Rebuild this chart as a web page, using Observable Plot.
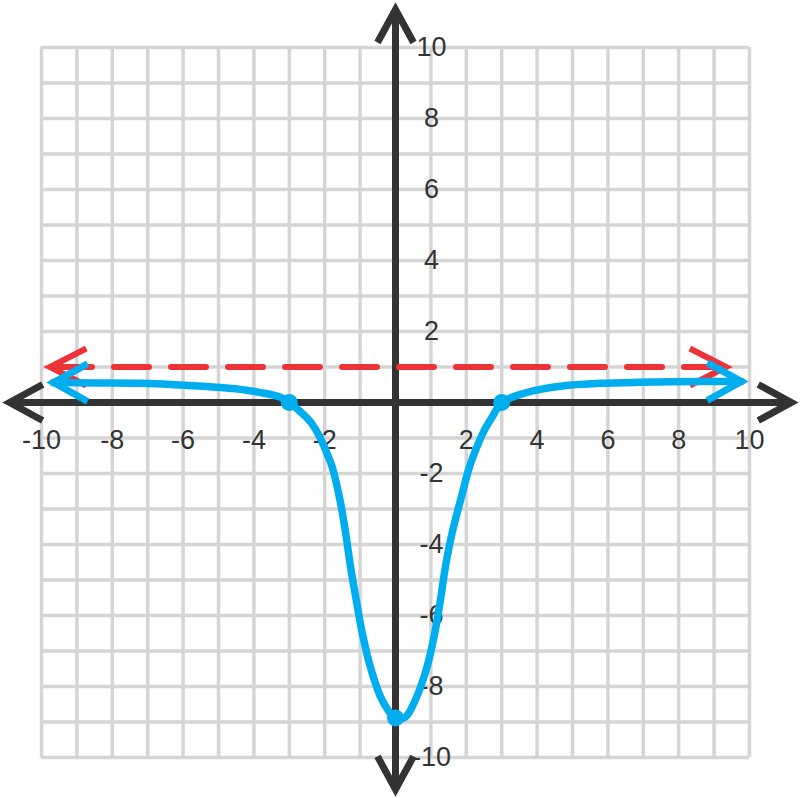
<!DOCTYPE html>
<html><head><meta charset="utf-8">
<script src="https://cdn.jsdelivr.net/npm/d3@7"></script>
<script src="https://cdn.jsdelivr.net/npm/@observablehq/plot@0.6"></script>
<style>body{margin:0;background:#fff;} svg{display:block;}</style>
</head><body><div id="chart"></div>
<script>
// ---- data ----
const gridValues = [-10,-9,-8,-7,-6,-5,-4,-3,-2,-1,0,1,2,3,4,5,6,7,8,9,10];
const xTickValues = [-10,-8,-6,-4,-2,2,4,6,8,10];
const xTickLabels = ["-10","-8","-6","-4","-2","2","4","6","8","10"];
const yTickValues = [10,8,6,4,2,-2,-4,-6,-8,-10];
const yTickLabels = ["10","8","6","4","2","-2","-4","-6","-8","-10"];
const xAxisExtent = [-10.9, 11.18];
const yAxisExtent = [-10.9, 11.07];
const asymptoteY = 1;
const asymptoteExtent = [-9.76, 9.34];
const curveX = [-9.66,-8.5,-7.2,-6.07,-4.94,-4.4,-3.81,-3.25,-3.0,-2.7,-2.4,-2.15,-1.95,-1.79,-1.57,-1.41,-1.27,-1.11,-0.94,-0.71,-0.38,0,0.28,0.56,0.89,1.11,1.27,1.41,1.6,1.84,2.09,2.3,2.5,2.75,3.0,3.53,4.1,4.66,5.8,6.9,8.5,9.77];
const curveY = [0.56,0.55,0.54,0.49,0.42,0.37,0.28,0.15,0,-0.25,-0.55,-0.95,-1.4,-1.81,-2.74,-3.67,-4.63,-5.56,-6.49,-7.45,-8.38,-8.89,-8.86,-8.38,-7.45,-6.49,-5.56,-4.63,-3.67,-2.74,-1.81,-1.25,-0.8,-0.38,0,0.23,0.37,0.46,0.54,0.57,0.59,0.59];
const keyX = [-3, 0, 3];
const keyY = [0, -8.89, 0];

// ---- build tables ----
const curve = curveX.map((x, i) => ({x, y: curveY[i]}));
const keyPts = keyX.map((x, i) => ({x, y: keyY[i]}));
const xTicks = xTickValues.map((v, i) => ({v, label: xTickLabels[i]}));
const yTicks = yTickValues.map((v, i) => ({v, label: yTickLabels[i]}));

function chevron(len, halfDeg) {
  const a = halfDeg * Math.PI / 180;
  const dx = len * Math.cos(a), dy = len * Math.sin(a);
  return {draw(ctx) { ctx.moveTo(-dx, -dy); ctx.lineTo(0, 0); ctx.lineTo(-dx, dy); }};
}
const axisTips = [
  {x: xAxisExtent[0], y: 0, r: 180}, {x: xAxisExtent[1], y: 0, r: 0},
  {x: 0, y: yAxisExtent[1], r: -90}, {x: 0, y: yAxisExtent[0], r: 90}
];
const redTips = [{x: asymptoteExtent[0], y: asymptoteY, r: 180}, {x: asymptoteExtent[1], y: asymptoteY, r: 0}];
const blueTips = [{x: curve[0].x, y: curve[0].y, r: 180}, {x: curve[curve.length-1].x, y: curve[curve.length-1].y, r: 0}];

const AXIS = "#333333", GRID = "#d5d5d5", RED = "#ee3338", BLUE = "#00aeef";
const FONT = "Liberation Sans, Arial, sans-serif";

const chart = Plot.plot({
  width: 800, height: 798,
  marginLeft: 41, marginRight: 51, marginTop: 47, marginBottom: 41,
  x: {domain: [-10, 10], axis: null},
  y: {domain: [-10, 10], axis: null},
  style: {background: "#fff", overflow: "visible", fontFamily: FONT},
  marks: [
    Plot.ruleX(gridValues, {x: d => d, y1: -10, y2: 10, stroke: GRID, strokeWidth: 3.5}),
    Plot.ruleY(gridValues, {y: d => d, x1: -10, x2: 10, stroke: GRID, strokeWidth: 3.5}),
    Plot.text(xTicks, {x: "v", y: 0, text: "label", dy: 38, fontSize: 27, fill: AXIS, fontFamily: FONT}),
    Plot.text(yTicks, {x: 0, y: "v", text: "label", dx: 36, fontSize: 27, fill: AXIS, fontFamily: FONT}),
    Plot.ruleY([0], {x1: xAxisExtent[0], x2: xAxisExtent[1], stroke: AXIS, strokeWidth: 7}),
    Plot.ruleX([0], {y1: yAxisExtent[0], y2: yAxisExtent[1], stroke: AXIS, strokeWidth: 7}),
    Plot.dot(axisTips, {x: "x", y: "y", rotate: "r", symbol: chevron(37.6, 28.6), r: 10, fill: "none", stroke: AXIS, strokeWidth: 7}),
    Plot.line(asymptoteExtent.map(x => ({x, y: asymptoteY})), {x: "x", y: "y", stroke: RED, strokeWidth: 6, strokeDasharray: "35,22", strokeDashoffset: 50}),
    Plot.dot(redTips, {x: "x", y: "y", rotate: "r", symbol: chevron(40.7, 27), r: 10, fill: "none", stroke: RED, strokeWidth: 6}),
    Plot.line(curve, {x: "x", y: "y", curve: "catmull-rom", stroke: BLUE, strokeWidth: 7.5}),
    Plot.dot(blueTips, {x: "x", y: "y", rotate: "r", symbol: chevron(39, 29), r: 10, fill: "none", stroke: BLUE, strokeWidth: 7}),
    Plot.dot(keyPts, {x: "x", y: "y", r: 8.5, fill: BLUE, stroke: "none"})
  ]
});
document.getElementById("chart").append(chart);
</script>
</body></html>
